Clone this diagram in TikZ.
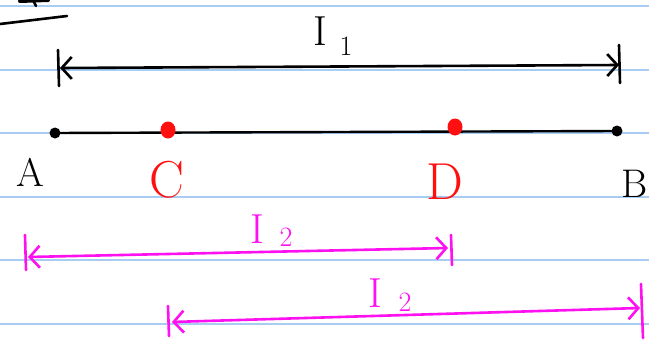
\documentclass[tikz,border=0pt]{standalone}
\usetikzlibrary{arrows.meta,shapes.geometric}
\definecolor{ruleblue}{HTML}{A9CDF2}
\definecolor{penred}{HTML}{FF1010}
\definecolor{penmag}{HTML}{FF10F0}
\begin{document}
\begin{tikzpicture}[x=1pt,y=-1pt,
  pen/.style={line width=2.6pt,line cap=round,line join=round},
  rule/.style={ruleblue,line width=2pt},
  barb/.style={pen,{Straight Barb[length=10pt,width=22pt]}-{Straight Barb[length=10pt,width=22pt]}},
  lbl/.style={font=\fontsize{40}{40}\selectfont,inner sep=0pt},
  big/.style={font=\fontsize{52}{52}\selectfont,inner sep=0pt},
  ilbl/.style={font=\fontsize{42}{42}\selectfont,inner sep=0pt},
  sub/.style={font=\fontsize{28}{28}\selectfont,inner sep=0pt},
  dotblack/.style={circle,fill=black,inner sep=0pt,minimum size=11pt},
  dotred/.style={ellipse,fill=penred,inner sep=0pt,minimum width=15pt,minimum height=17pt}]
\useasboundingbox (0,0) rectangle (649,340);
\fill[white] (0,0) rectangle (649,340);
% ruled lines
\foreach \yy in {6,69.5,133,196.5,260,323.5}
  \draw[rule] (0,\yy) -- (649,\yy);
% top-left scraps
\draw[pen] (0,24) -- (67,16);
\draw[pen,line width=4pt] (20,1) -- (48,0);
\draw[pen] (34,2) -- (36,6);
% I1
\coordinate (i1l) at (60,68);
\coordinate (i1r) at (619,65);
\draw[pen] (58,50) -- (59,86);
\draw[pen] (619,45) -- (620,83);
\draw[barb] (i1l) -- (i1r);
\node[ilbl] (I1) at (320,31) {I};
\node[sub] (s1) at (346,46) {1};
% segment AB
\node[dotblack] (A) at (55,133) {};
\node[dotblack] (B) at (617,131) {};
\draw[pen,line width=2.4pt] (A) -- (B);
\node[dotred] (C) at (168,130) {};
\node[dotred] (D) at (455,127) {};
\node[lbl] (la) at (30,172) {A};
\node[big,penred] (lc) at (167,180) {C};
\node[big,penred] (ld) at (445,182) {D};
\node[lbl,anchor=east] (lb) at (648,184) {B};
% I2 first
\draw[pen,penmag] (25,235) -- (26,270);
\draw[pen,penmag] (451,235) -- (452,265);
\coordinate (j1l) at (28,257);
\coordinate (j1r) at (448,248);
\draw[barb,penmag] (j1l) -- (j1r);
\node[ilbl,penmag] (I2a) at (257,229) {I};
\node[sub,penmag] (s2a) at (286,237) {2};
% I2 second
\draw[pen,penmag] (168,306) -- (169,336);
\draw[pen,penmag] (641,284) -- (643,338);
\coordinate (j2l) at (172,322);
\coordinate (j2r) at (640,308);
\draw[barb,penmag] (j2l) -- (j2r);
\node[ilbl,penmag] (I2b) at (375,293) {I};
\node[sub,penmag] (s2b) at (405,302) {2};
\end{tikzpicture}
\end{document}
